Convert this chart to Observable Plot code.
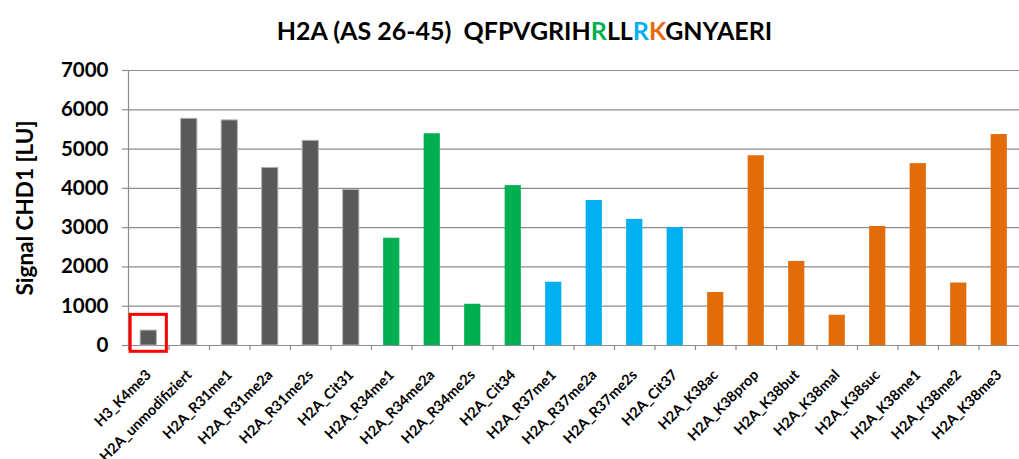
<!DOCTYPE html>
<html><head><meta charset="utf-8">
<script src="https://cdn.jsdelivr.net/npm/d3@7"></script>
<script src="https://cdn.jsdelivr.net/npm/@observablehq/plot@0.6"></script>
<style>
body{margin:0;background:#fff;font-family:Lato,"Open Sans",sans-serif;}
#title{height:54px;line-height:60px;text-align:center;padding-left:30px;font-weight:bold;font-size:25px;color:#000;white-space:pre;overflow:visible;}
#chart svg{display:block;}
</style></head><body>
<div id="title"></div>
<div id="chart"></div>
<script>
// ---- data ----
const categories = ["H3_K4me3","H2A_unmodifiziert","H2A_R31me1","H2A_R31me2a","H2A_R31me2s","H2A_Cit31",
  "H2A_R34me1","H2A_R34me2a","H2A_R34me2s","H2A_Cit34",
  "H2A_R37me1","H2A_R37me2a","H2A_R37me2s","H2A_Cit37",
  "H2A_K38ac","H2A_K38prop","H2A_K38but","H2A_K38mal","H2A_K38suc","H2A_K38me1","H2A_K38me2","H2A_K38me3"];
const values = [380,5770,5730,4520,5210,3960, 2730,5390,1050,4070, 1610,3690,3210,3000, 1350,4830,2140,770,3030,4630,1590,5370];
const groups = ["ctrl","ctrl","ctrl","ctrl","ctrl","ctrl","R34","R34","R34","R34","R37","R37","R37","R37","K38","K38","K38","K38","K38","K38","K38","K38"];
const groupNames = ["ctrl","R34","R37","K38"];
const groupColors = ["#595959","#00B050","#00B0F0","#E36C0A"];
const yTicks = [0,1000,2000,3000,4000,5000,6000,7000];
const yLabel = "Signal CHD1 [LU]";
const titleParts = [["H2A (AS 26-45)  QFPVGRIH","#000"],["R","#00B050"],["LL","#000"],["R","#00B0F0"],["K","#E36C0A"],["GNYAERI","#000"]];
const highlight = {category: "H3_K4me3", from: -160, to: 780};

// ---- title ----
const t = document.getElementById("title");
for (const [s,c] of titleParts) { const sp = document.createElement("span"); sp.textContent = s; sp.style.color = c; t.appendChild(sp); }

// ---- chart ----
const rows = categories.map((c,i) => ({cat: c, value: values[i], group: groups[i]}));
const gridColor = "#8c8c8c";
const W = 1019, H = 405, mL = 128, mR = 0;
const step = (W - mL - mR) / categories.length;

const chart = Plot.plot({
  width: W, height: H,
  marginTop: 16, marginBottom: 114, marginLeft: mL, marginRight: mR,
  style: {fontFamily: "Lato, 'Open Sans', sans-serif", background: "white", color: "#000", overflow: "visible"},
  x: {domain: categories, paddingInner: 0.6, paddingOuter: 0.3, align: 0.5, round: false, label: null},
  y: {domain: [0, 7000], label: null},
  color: {domain: groupNames, range: groupColors},
  marks: [
    Plot.gridY(yTicks, {stroke: gridColor, strokeOpacity: 1, strokeWidth: 1.2}),
    Plot.axisY(yTicks, {tickSize: 6, tickPadding: 14, stroke: gridColor, strokeWidth: 1.2, fill: "#000", fontSize: 20.5, fontWeight: "bold", tickFormat: d => String(d), label: null}),
    Plot.ruleX([categories[0]], {x: d => d, dx: -step/2, y1: 0, y2: 7000, stroke: gridColor, strokeWidth: 1.2}),
    Plot.axisX({tickSize: 5, tickFormat: () => "", dx: -step/2, stroke: gridColor, strokeWidth: 1.2, label: null}),
    Plot.axisX({tickSize: 0, tickPadding: 27, tickRotate: -45, dx: 0, fill: "#000", fontSize: 14.5, fontWeight: "bold", label: null}),
    Plot.barY(rows, {x: "cat", y: "value", fill: "group", stroke: d => d.group === "ctrl" ? "#b0b0b0" : "none", strokeWidth: 1}),
    Plot.barY([highlight], {x: "category", y1: "from", y2: "to", fill: "none", stroke: "#ff0000", strokeWidth: 3, insetLeft: -10, insetRight: -10}),
    Plot.text([yLabel], {frameAnchor: "left", dx: -103, rotate: -90, textAnchor: "middle", fontSize: 22.5, fontWeight: "bold", fill: "#000", text: d => d})
  ]
});
document.getElementById("chart").appendChild(chart);
</script>
</body></html>
